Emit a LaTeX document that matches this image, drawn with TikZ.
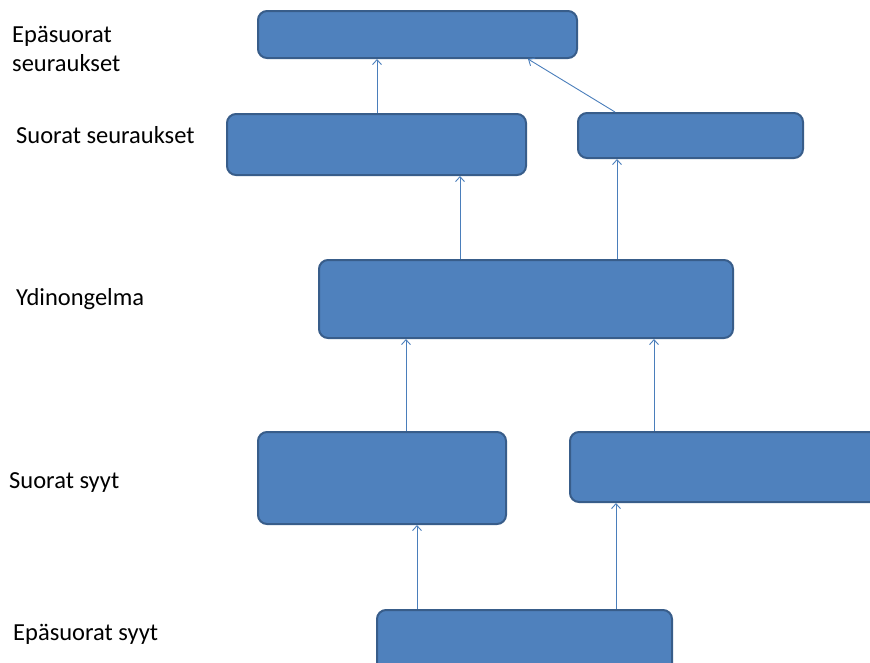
\documentclass[tikz,border=0pt]{standalone}
\usepackage{fontspec}
\setmainfont{Carlito}
\usetikzlibrary{arrows.meta}
\definecolor{boxfill}{HTML}{4F81BD}
\definecolor{boxline}{HTML}{385D8A}
\definecolor{linkcol}{HTML}{4A7EBB}
\tikzset{
  box/.style={draw=boxline, fill=boxfill, line width=2pt, rounded corners=9pt, inner sep=0pt},
  conn/.style={draw=linkcol, line width=0.9pt, -{Straight Barb[length=5pt,width=9pt,line width=0.9pt]}},
  lvl/.style={anchor=base west, inner sep=0pt, align=left, font=\fontsize{24.5}{29}\selectfont}
}
\begin{document}
\begin{tikzpicture}[x=1pt,y=-1pt]
  \useasboundingbox (0,0) rectangle (870,662);
  \clip (0,0) rectangle (870,662);

  % level labels (base anchor of a two-line label sits on its last line)
  \node[lvl] (l1) at (12,71) {Epäsuorat\\seuraukset};
  \node[lvl] (l2) at (16,143) {Suorat seuraukset};
  \node[lvl] (l3) at (16,305) {Ydinongelma};
  \node[lvl] (l4) at (9,488) {Suorat syyt};
  \node[lvl] (l5) at (13,640) {Epäsuorat syyt};

  % boxes
  \node[box, minimum width=319pt, minimum height=47pt] (top) at (417.5,34.5) {};
  \node[box, minimum width=299pt, minimum height=61pt] (sl)  at (376.5,144.5) {};
  \node[box, minimum width=225pt, minimum height=45pt] (sr)  at (690.5,135.5) {};
  \node[box, minimum width=414pt, minimum height=78pt] (core) at (526,299) {};
  \node[box, minimum width=248pt, minimum height=92pt] (cl)  at (382,478) {};
  \node[box, minimum width=335pt, minimum height=70pt] (cr)  at (737.5,467) {};
  \node[box, minimum width=295pt, minimum height=90pt] (bot) at (524.5,655) {};

  % connectors
  \draw[conn] (417,0 |- bot.north) -- (417,0 |- cl.south);
  \draw[conn] (616,0 |- bot.north) -- (616,0 |- cr.south);
  \draw[conn] (406,0 |- cl.north) -- (406,0 |- core.south);
  \draw[conn] (654,0 |- cr.north) -- (654,0 |- core.south);
  \draw[conn] (460,0 |- core.north) -- (460,0 |- sl.south);
  \draw[conn] (617,0 |- core.north) -- (617,0 |- sr.south);
  \draw[conn] (377,0 |- sl.north) -- (377,0 |- top.south);
  \draw[conn] (615,0 |- sr.north) -- (528,0 |- top.south);
\end{tikzpicture}
\end{document}
